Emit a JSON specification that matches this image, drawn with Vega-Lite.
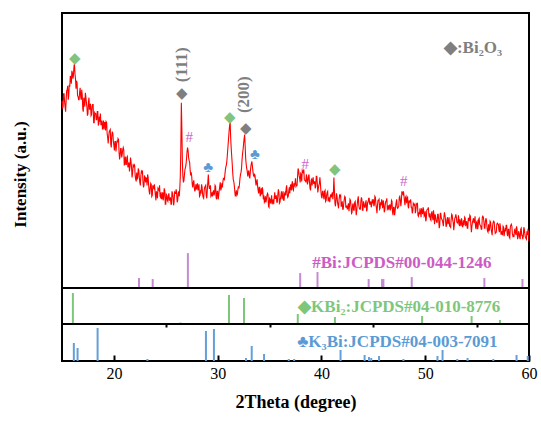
{
  "$schema": "https://vega.github.io/schema/vega-lite/v6.json",
  "padding": {"left": 10, "top": 12, "right": 12, "bottom": 5},
  "spacing": 0,
  "bounds": "flush",
  "config": {
    "view": {"stroke": "black", "strokeWidth": 2},
    "font": "Liberation Serif",
    "axis": {"grid": false}
  },
  "datasets": {
    "curve": [
      {"t":15.0,"i":188},{"t":15.1,"i":182},{"t":15.2,"i":195},{"t":15.3,"i":182},{"t":15.4,"i":189},{"t":15.5,"i":199},{"t":15.6,"i":189},{"t":15.7,"i":204},{"t":15.8,"i":213},{"t":15.9,"i":205},
      {"t":16.0,"i":216},{"t":16.1,"i":213},{"t":16.2,"i":225},{"t":16.3,"i":210},{"t":16.4,"i":208},{"t":16.5,"i":193},{"t":16.6,"i":189},{"t":16.7,"i":197},{"t":16.8,"i":192},{"t":16.9,"i":199},
      {"t":17.0,"i":180},{"t":17.1,"i":191},{"t":17.2,"i":182},{"t":17.3,"i":192},{"t":17.4,"i":182},{"t":17.5,"i":175},{"t":17.6,"i":191},{"t":17.7,"i":181},{"t":17.8,"i":173},{"t":17.9,"i":182},
      {"t":18.0,"i":184},{"t":18.1,"i":166},{"t":18.2,"i":175},{"t":18.3,"i":169},{"t":18.4,"i":177},{"t":18.5,"i":163},{"t":18.6,"i":172},{"t":18.7,"i":175},{"t":18.8,"i":164},{"t":18.9,"i":159},
      {"t":19.0,"i":168},{"t":19.1,"i":166},{"t":19.2,"i":158},{"t":19.3,"i":166},{"t":19.4,"i":151},{"t":19.5,"i":152},{"t":19.6,"i":158},{"t":19.7,"i":144},{"t":19.8,"i":153},{"t":19.9,"i":155},
      {"t":20.0,"i":143},{"t":20.1,"i":147},{"t":20.2,"i":137},{"t":20.3,"i":148},{"t":20.4,"i":150},{"t":20.5,"i":136},{"t":20.6,"i":133},{"t":20.7,"i":140},{"t":20.8,"i":134},{"t":20.9,"i":141},
      {"t":21.0,"i":123},{"t":21.1,"i":132},{"t":21.2,"i":124},{"t":21.3,"i":132},{"t":21.4,"i":123},{"t":21.5,"i":117},{"t":21.6,"i":131},{"t":21.7,"i":121},{"t":21.8,"i":115},{"t":21.9,"i":122},
      {"t":22.0,"i":123},{"t":22.1,"i":109},{"t":22.2,"i":116},{"t":22.3,"i":111},{"t":22.4,"i":118},{"t":22.5,"i":106},{"t":22.6,"i":113},{"t":22.7,"i":116},{"t":22.8,"i":107},{"t":22.9,"i":103},
      {"t":23.0,"i":111},{"t":23.1,"i":111},{"t":23.2,"i":103},{"t":23.3,"i":111},{"t":23.4,"i":97},{"t":23.5,"i":100},{"t":23.6,"i":104},{"t":23.7,"i":93},{"t":23.8,"i":101},{"t":23.9,"i":104},
      {"t":24.0,"i":93},{"t":24.1,"i":97},{"t":24.2,"i":90},{"t":24.3,"i":99},{"t":24.4,"i":103},{"t":24.5,"i":91},{"t":24.6,"i":89},{"t":24.7,"i":96},{"t":24.8,"i":92},{"t":24.9,"i":98},
      {"t":25.0,"i":84},{"t":25.1,"i":93},{"t":25.2,"i":87},{"t":25.3,"i":95},{"t":25.4,"i":88},{"t":25.5,"i":84},{"t":25.6,"i":97},{"t":25.7,"i":91},{"t":25.8,"i":86},{"t":25.9,"i":95},
      {"t":26.0,"i":99},{"t":26.1,"i":86},{"t":26.2,"i":95},{"t":26.3,"i":92},{"t":26.4,"i":112},{"t":26.5,"i":186},{"t":26.6,"i":126},{"t":26.7,"i":106},{"t":26.8,"i":114},{"t":26.9,"i":121},
      {"t":27.0,"i":130},{"t":27.1,"i":141},{"t":27.2,"i":131},{"t":27.3,"i":126},{"t":27.4,"i":113},{"t":27.5,"i":112},{"t":27.6,"i":101},{"t":27.7,"i":108},{"t":27.8,"i":97},{"t":27.9,"i":104},
      {"t":28.0,"i":103},{"t":28.1,"i":98},{"t":28.2,"i":104},{"t":28.3,"i":93},{"t":28.4,"i":96},{"t":28.5,"i":101},{"t":28.6,"i":91},{"t":28.7,"i":98},{"t":28.8,"i":102},{"t":28.9,"i":93},
      {"t":29.0,"i":98},{"t":29.1,"i":114},{"t":29.2,"i":100},{"t":29.3,"i":103},{"t":29.4,"i":93},{"t":29.5,"i":92},{"t":29.6,"i":98},{"t":29.7,"i":95},{"t":29.8,"i":102},{"t":29.9,"i":89},
      {"t":30.0,"i":97},{"t":30.1,"i":93},{"t":30.2,"i":102},{"t":30.3,"i":98},{"t":30.4,"i":105},{"t":30.5,"i":106},{"t":30.6,"i":110},{"t":30.7,"i":114},{"t":30.8,"i":122},{"t":30.9,"i":129},
      {"t":31.0,"i":143},{"t":31.1,"i":157},{"t":31.2,"i":167},{"t":31.3,"i":141},{"t":31.4,"i":125},{"t":31.5,"i":109},{"t":31.6,"i":103},{"t":31.7,"i":92},{"t":31.8,"i":98},{"t":31.9,"i":94},
      {"t":32.0,"i":102},{"t":32.1,"i":104},{"t":32.2,"i":114},{"t":32.3,"i":120},{"t":32.4,"i":135},{"t":32.5,"i":145},{"t":32.6,"i":154},{"t":32.7,"i":130},{"t":32.8,"i":120},{"t":32.9,"i":112},
      {"t":33.0,"i":118},{"t":33.1,"i":110},{"t":33.2,"i":122},{"t":33.3,"i":127},{"t":33.4,"i":117},{"t":33.5,"i":112},{"t":33.6,"i":113},{"t":33.7,"i":103},{"t":33.8,"i":109},{"t":33.9,"i":98},
      {"t":34.0,"i":101},{"t":34.1,"i":92},{"t":34.2,"i":100},{"t":34.3,"i":101},{"t":34.4,"i":89},{"t":34.5,"i":86},{"t":34.6,"i":92},{"t":34.7,"i":89},{"t":34.8,"i":95},{"t":34.9,"i":82},
      {"t":35.0,"i":90},{"t":35.1,"i":85},{"t":35.2,"i":93},{"t":35.3,"i":87},{"t":35.4,"i":84},{"t":35.5,"i":96},{"t":35.6,"i":90},{"t":35.7,"i":86},{"t":35.8,"i":94},{"t":35.9,"i":96},
      {"t":36.0,"i":86},{"t":36.1,"i":93},{"t":36.2,"i":89},{"t":36.3,"i":97},{"t":36.4,"i":88},{"t":36.5,"i":96},{"t":36.6,"i":100},{"t":36.7,"i":94},{"t":36.8,"i":92},{"t":36.9,"i":101},
      {"t":37.0,"i":102},{"t":37.1,"i":98},{"t":37.2,"i":107},{"t":37.3,"i":98},{"t":37.4,"i":103},{"t":37.5,"i":110},{"t":37.6,"i":103},{"t":37.7,"i":112},{"t":37.8,"i":118},{"t":37.9,"i":110},
      {"t":38.0,"i":115},{"t":38.1,"i":107},{"t":38.2,"i":117},{"t":38.3,"i":119},{"t":38.4,"i":108},{"t":38.5,"i":106},{"t":38.6,"i":111},{"t":38.7,"i":107},{"t":38.8,"i":114},{"t":38.9,"i":100},
      {"t":39.0,"i":108},{"t":39.1,"i":103},{"t":39.2,"i":111},{"t":39.3,"i":105},{"t":39.4,"i":100},{"t":39.5,"i":112},{"t":39.6,"i":105},{"t":39.7,"i":100},{"t":39.8,"i":105},{"t":39.9,"i":105},
      {"t":40.0,"i":92},{"t":40.1,"i":97},{"t":40.2,"i":92},{"t":40.3,"i":97},{"t":40.4,"i":87},{"t":40.5,"i":93},{"t":40.6,"i":97},{"t":40.7,"i":89},{"t":40.8,"i":86},{"t":40.9,"i":94},
      {"t":41.0,"i":94},{"t":41.1,"i":89},{"t":41.2,"i":111},{"t":41.3,"i":85},{"t":41.4,"i":88},{"t":41.5,"i":92},{"t":41.6,"i":83},{"t":41.7,"i":89},{"t":41.8,"i":92},{"t":41.9,"i":82},
      {"t":42.0,"i":87},{"t":42.1,"i":79},{"t":42.2,"i":89},{"t":42.3,"i":91},{"t":42.4,"i":81},{"t":42.5,"i":79},{"t":42.6,"i":85},{"t":42.7,"i":82},{"t":42.8,"i":88},{"t":42.9,"i":75},
      {"t":43.0,"i":83},{"t":43.1,"i":78},{"t":43.2,"i":86},{"t":43.3,"i":81},{"t":43.4,"i":77},{"t":43.5,"i":89},{"t":43.6,"i":83},{"t":43.7,"i":79},{"t":43.8,"i":87},{"t":43.9,"i":89},
      {"t":44.0,"i":78},{"t":44.1,"i":85},{"t":44.2,"i":81},{"t":44.3,"i":88},{"t":44.4,"i":79},{"t":44.5,"i":86},{"t":44.6,"i":90},{"t":44.7,"i":84},{"t":44.8,"i":81},{"t":44.9,"i":89},
      {"t":45.0,"i":89},{"t":45.1,"i":84},{"t":45.2,"i":91},{"t":45.3,"i":80},{"t":45.4,"i":83},{"t":45.5,"i":88},{"t":45.6,"i":79},{"t":45.7,"i":86},{"t":45.8,"i":89},{"t":45.9,"i":80},
      {"t":46.0,"i":85},{"t":46.1,"i":78},{"t":46.2,"i":87},{"t":46.3,"i":90},{"t":46.4,"i":80},{"t":46.5,"i":78},{"t":46.6,"i":84},{"t":46.7,"i":80},{"t":46.8,"i":87},{"t":46.9,"i":73},
      {"t":47.0,"i":81},{"t":47.1,"i":77},{"t":47.2,"i":86},{"t":47.3,"i":81},{"t":47.4,"i":81},{"t":47.5,"i":91},{"t":47.6,"i":88},{"t":47.7,"i":87},{"t":47.8,"i":95},{"t":47.9,"i":97},
      {"t":48.0,"i":87},{"t":48.1,"i":91},{"t":48.2,"i":85},{"t":48.3,"i":91},{"t":48.4,"i":80},{"t":48.5,"i":86},{"t":48.6,"i":89},{"t":48.7,"i":81},{"t":48.8,"i":77},{"t":48.9,"i":84},
      {"t":49.0,"i":84},{"t":49.1,"i":78},{"t":49.2,"i":85},{"t":49.3,"i":73},{"t":49.4,"i":76},{"t":49.5,"i":80},{"t":49.6,"i":71},{"t":49.7,"i":77},{"t":49.8,"i":81},{"t":49.9,"i":72},
      {"t":50.0,"i":77},{"t":50.1,"i":69},{"t":50.2,"i":79},{"t":50.3,"i":81},{"t":50.4,"i":71},{"t":50.5,"i":69},{"t":50.6,"i":75},{"t":50.7,"i":71},{"t":50.8,"i":78},{"t":50.9,"i":64},
      {"t":51.0,"i":72},{"t":51.1,"i":66},{"t":51.2,"i":74},{"t":51.3,"i":68},{"t":51.4,"i":63},{"t":51.5,"i":75},{"t":51.6,"i":69},{"t":51.7,"i":65},{"t":51.8,"i":71},{"t":51.9,"i":73},
      {"t":52.0,"i":62},{"t":52.1,"i":69},{"t":52.2,"i":64},{"t":52.3,"i":71},{"t":52.4,"i":62},{"t":52.5,"i":69},{"t":52.6,"i":73},{"t":52.7,"i":66},{"t":52.8,"i":63},{"t":52.9,"i":71},
      {"t":53.0,"i":71},{"t":53.1,"i":66},{"t":53.2,"i":73},{"t":53.3,"i":62},{"t":53.4,"i":65},{"t":53.5,"i":70},{"t":53.6,"i":61},{"t":53.7,"i":68},{"t":53.8,"i":71},{"t":53.9,"i":62},
      {"t":54.0,"i":67},{"t":54.1,"i":60},{"t":54.2,"i":70},{"t":54.3,"i":73},{"t":54.4,"i":63},{"t":54.5,"i":62},{"t":54.6,"i":68},{"t":54.7,"i":65},{"t":54.8,"i":72},{"t":54.9,"i":59},
      {"t":55.0,"i":67},{"t":55.1,"i":62},{"t":55.2,"i":70},{"t":55.3,"i":63},{"t":55.4,"i":59},{"t":55.5,"i":71},{"t":55.6,"i":71},{"t":55.7,"i":60},{"t":55.8,"i":67},{"t":55.9,"i":68},
      {"t":56.0,"i":57},{"t":56.1,"i":64},{"t":56.2,"i":59},{"t":56.3,"i":66},{"t":56.4,"i":56},{"t":56.5,"i":63},{"t":56.6,"i":67},{"t":56.7,"i":59},{"t":56.8,"i":56},{"t":56.9,"i":64},
      {"t":57.0,"i":64},{"t":57.1,"i":58},{"t":57.2,"i":65},{"t":57.3,"i":54},{"t":57.4,"i":57},{"t":57.5,"i":62},{"t":57.6,"i":52},{"t":57.7,"i":59},{"t":57.8,"i":63},{"t":57.9,"i":54},
      {"t":58.0,"i":59},{"t":58.1,"i":51},{"t":58.2,"i":61},{"t":58.3,"i":64},{"t":58.4,"i":54},{"t":58.5,"i":53},{"t":58.6,"i":58},{"t":58.7,"i":55},{"t":58.8,"i":62},{"t":58.9,"i":49},
      {"t":59.0,"i":57},{"t":59.1,"i":51},{"t":59.2,"i":59},{"t":59.3,"i":53},{"t":59.4,"i":49},{"t":59.5,"i":61},{"t":59.6,"i":54},{"t":59.7,"i":50},{"t":59.8,"i":57},{"t":59.9,"i":58},
      {"t":60.0,"i":47},
      {"t":15.05,"i":180},{"t":15.15,"i":195},{"t":15.25,"i":187},{"t":15.35,"i":177},{"t":15.45,"i":198},{"t":15.55,"i":203},{"t":15.65,"i":193},{"t":15.75,"i":202},{"t":15.85,"i":211},{"t":15.95,"i":218},
      {"t":16.05,"i":210},{"t":16.15,"i":222},{"t":16.25,"i":215},{"t":16.35,"i":200},{"t":16.45,"i":206},{"t":16.55,"i":192},{"t":16.65,"i":189},{"t":16.75,"i":201},{"t":16.85,"i":189},{"t":16.95,"i":194},
      {"t":17.05,"i":177},{"t":17.15,"i":188},{"t":17.25,"i":196},{"t":17.35,"i":186},{"t":17.45,"i":173},{"t":17.55,"i":187},{"t":17.65,"i":179},{"t":17.75,"i":185},{"t":17.85,"i":174},{"t":17.95,"i":184},
      {"t":18.05,"i":166},{"t":18.15,"i":176},{"t":18.25,"i":175},{"t":18.35,"i":169},{"t":18.45,"i":177},{"t":18.55,"i":165},{"t":18.65,"i":167},{"t":18.75,"i":164},{"t":18.85,"i":168},{"t":18.95,"i":162},
      {"t":19.05,"i":159},{"t":19.15,"i":166},{"t":19.25,"i":167},{"t":19.35,"i":155},{"t":19.45,"i":145},{"t":19.55,"i":157},{"t":19.65,"i":159},{"t":19.75,"i":141},{"t":19.85,"i":157},{"t":19.95,"i":147},
      {"t":20.05,"i":138},{"t":20.15,"i":147},{"t":20.25,"i":143},{"t":20.35,"i":146},{"t":20.45,"i":149},{"t":20.55,"i":129},{"t":20.65,"i":140},{"t":20.75,"i":131},{"t":20.85,"i":139},{"t":20.95,"i":139},
      {"t":21.05,"i":126},{"t":21.15,"i":124},{"t":21.25,"i":131},{"t":21.35,"i":121},{"t":21.45,"i":126},{"t":21.55,"i":122},{"t":21.65,"i":127},{"t":21.75,"i":111},{"t":21.85,"i":123},{"t":21.95,"i":124},
      {"t":22.05,"i":113},{"t":22.15,"i":107},{"t":22.25,"i":109},{"t":22.35,"i":120},{"t":22.45,"i":111},{"t":22.55,"i":103},{"t":22.65,"i":117},{"t":22.75,"i":118},{"t":22.85,"i":101},{"t":22.95,"i":113},
      {"t":23.05,"i":106},{"t":23.15,"i":109},{"t":23.25,"i":114},{"t":23.35,"i":103},{"t":23.45,"i":94},{"t":23.55,"i":105},{"t":23.65,"i":92},{"t":23.75,"i":103},{"t":23.85,"i":100},{"t":23.95,"i":99},
      {"t":24.05,"i":88},{"t":24.15,"i":95},{"t":24.25,"i":100},{"t":24.35,"i":98},{"t":24.45,"i":92},{"t":24.55,"i":96},{"t":24.65,"i":91},{"t":24.75,"i":88},{"t":24.85,"i":100},{"t":24.95,"i":84},
      {"t":25.05,"i":94},{"t":25.15,"i":88},{"t":25.25,"i":93},{"t":25.35,"i":88},{"t":25.45,"i":91},{"t":25.55,"i":84},{"t":25.65,"i":95},{"t":25.75,"i":83},{"t":25.85,"i":96},{"t":25.95,"i":95},
      {"t":26.05,"i":95},{"t":26.15,"i":88},{"t":26.25,"i":97},{"t":26.35,"i":100},{"t":26.45,"i":140},{"t":26.55,"i":160},{"t":26.65,"i":112},{"t":26.75,"i":108},{"t":26.85,"i":119},{"t":26.95,"i":124},
      {"t":27.05,"i":137},{"t":27.15,"i":138},{"t":27.25,"i":128},{"t":27.35,"i":118},{"t":27.45,"i":116},{"t":27.55,"i":104},{"t":27.65,"i":106},{"t":27.75,"i":101},{"t":27.85,"i":99},{"t":27.95,"i":99},
      {"t":28.05,"i":105},{"t":28.15,"i":100},{"t":28.25,"i":92},{"t":28.35,"i":97},{"t":28.45,"i":104},{"t":28.55,"i":94},{"t":28.65,"i":90},{"t":28.75,"i":101},{"t":28.85,"i":103},{"t":28.95,"i":90},
      {"t":29.05,"i":106},{"t":29.15,"i":104},{"t":29.25,"i":100},{"t":29.35,"i":92},{"t":29.45,"i":96},{"t":29.55,"i":96},{"t":29.65,"i":93},{"t":29.75,"i":103},{"t":29.85,"i":91},{"t":29.95,"i":97},
      {"t":30.05,"i":89},{"t":30.15,"i":98},{"t":30.25,"i":106},{"t":30.35,"i":100},{"t":30.45,"i":101},{"t":30.55,"i":110},{"t":30.65,"i":109},{"t":30.75,"i":119},{"t":30.85,"i":124},{"t":30.95,"i":136},
      {"t":31.05,"i":150},{"t":31.15,"i":163},{"t":31.25,"i":152},{"t":31.35,"i":133},{"t":31.45,"i":116},{"t":31.55,"i":107},{"t":31.65,"i":97},{"t":31.75,"i":95},{"t":31.85,"i":93},{"t":31.95,"i":99},
      {"t":32.05,"i":100},{"t":32.15,"i":110},{"t":32.25,"i":116},{"t":32.35,"i":129},{"t":32.45,"i":139},{"t":32.55,"i":150},{"t":32.65,"i":142},{"t":32.75,"i":124},{"t":32.85,"i":117},{"t":32.95,"i":116},
      {"t":33.05,"i":112},{"t":33.15,"i":117},{"t":33.25,"i":125},{"t":33.35,"i":122},{"t":33.45,"i":113},{"t":33.55,"i":114},{"t":33.65,"i":107},{"t":33.75,"i":107},{"t":33.85,"i":102},{"t":33.95,"i":95},
      {"t":34.05,"i":101},{"t":34.15,"i":95},{"t":34.25,"i":94},{"t":34.35,"i":98},{"t":34.45,"i":93},{"t":34.55,"i":87},{"t":34.65,"i":86},{"t":34.75,"i":93},{"t":34.85,"i":94},{"t":34.95,"i":81},
      {"t":35.05,"i":89},{"t":35.15,"i":88},{"t":35.25,"i":84},{"t":35.35,"i":89},{"t":35.45,"i":91},{"t":35.55,"i":90},{"t":35.65,"i":93},{"t":35.75,"i":86},{"t":35.85,"i":99},{"t":35.95,"i":85},
      {"t":36.05,"i":90},{"t":36.15,"i":97},{"t":36.25,"i":92},{"t":36.35,"i":88},{"t":36.45,"i":95},{"t":36.55,"i":93},{"t":36.65,"i":103},{"t":36.75,"i":91},{"t":36.85,"i":97},{"t":36.95,"i":95},
      {"t":37.05,"i":104},{"t":37.15,"i":104},{"t":37.25,"i":99},{"t":37.35,"i":105},{"t":37.45,"i":105},{"t":37.55,"i":102},{"t":37.65,"i":103},{"t":37.75,"i":120},{"t":37.85,"i":113},{"t":37.95,"i":106},
      {"t":38.05,"i":114},{"t":38.15,"i":118},{"t":38.25,"i":116},{"t":38.35,"i":109},{"t":38.45,"i":108},{"t":38.55,"i":114},{"t":38.65,"i":104},{"t":38.75,"i":112},{"t":38.85,"i":106},{"t":38.95,"i":98},
      {"t":39.05,"i":109},{"t":39.15,"i":108},{"t":39.25,"i":105},{"t":39.35,"i":107},{"t":39.45,"i":102},{"t":39.55,"i":112},{"t":39.65,"i":96},{"t":39.75,"i":103},{"t":39.85,"i":111},{"t":39.95,"i":97},
      {"t":40.05,"i":90},{"t":40.15,"i":97},{"t":40.25,"i":89},{"t":40.35,"i":98},{"t":40.45,"i":88},{"t":40.55,"i":96},{"t":40.65,"i":87},{"t":40.75,"i":91},{"t":40.85,"i":92},{"t":40.95,"i":91},
      {"t":41.05,"i":96},{"t":41.15,"i":96},{"t":41.25,"i":98},{"t":41.35,"i":82},{"t":41.45,"i":95},{"t":41.55,"i":86},{"t":41.65,"i":80},{"t":41.75,"i":93},{"t":41.85,"i":93},{"t":41.95,"i":82},
      {"t":42.05,"i":79},{"t":42.15,"i":85},{"t":42.25,"i":92},{"t":42.35,"i":81},{"t":42.45,"i":82},{"t":42.55,"i":81},{"t":42.65,"i":77},{"t":42.75,"i":89},{"t":42.85,"i":82},{"t":42.95,"i":76},
      {"t":43.05,"i":85},{"t":43.15,"i":78},{"t":43.25,"i":87},{"t":43.35,"i":73},{"t":43.45,"i":84},{"t":43.55,"i":92},{"t":43.65,"i":80},{"t":43.75,"i":79},{"t":43.85,"i":91},{"t":43.95,"i":78},
      {"t":44.05,"i":87},{"t":44.15,"i":81},{"t":44.25,"i":85},{"t":44.35,"i":77},{"t":44.45,"i":86},{"t":44.55,"i":90},{"t":44.65,"i":84},{"t":44.75,"i":87},{"t":44.85,"i":84},{"t":44.95,"i":85},
      {"t":45.05,"i":82},{"t":45.15,"i":92},{"t":45.25,"i":84},{"t":45.35,"i":75},{"t":45.45,"i":88},{"t":45.55,"i":89},{"t":45.65,"i":80},{"t":45.75,"i":83},{"t":45.85,"i":85},{"t":45.95,"i":88},
      {"t":46.05,"i":76},{"t":46.15,"i":84},{"t":46.25,"i":87},{"t":46.35,"i":79},{"t":46.45,"i":83},{"t":46.55,"i":82},{"t":46.65,"i":79},{"t":46.75,"i":88},{"t":46.85,"i":76},{"t":46.95,"i":81},
      {"t":47.05,"i":73},{"t":47.15,"i":82},{"t":47.25,"i":89},{"t":47.35,"i":80},{"t":47.45,"i":82},{"t":47.55,"i":92},{"t":47.65,"i":82},{"t":47.75,"i":97},{"t":47.85,"i":94},{"t":47.95,"i":93},
      {"t":48.05,"i":83},{"t":48.15,"i":92},{"t":48.25,"i":90},{"t":48.35,"i":82},{"t":48.45,"i":88},{"t":48.55,"i":86},{"t":48.65,"i":81},{"t":48.75,"i":75},{"t":48.85,"i":85},{"t":48.95,"i":83},
      {"t":49.05,"i":75},{"t":49.15,"i":84},{"t":49.25,"i":85},{"t":49.35,"i":72},{"t":49.45,"i":74},{"t":49.55,"i":76},{"t":49.65,"i":80},{"t":49.75,"i":74},{"t":49.85,"i":78},{"t":49.95,"i":73},
      {"t":50.05,"i":67},{"t":50.15,"i":78},{"t":50.25,"i":79},{"t":50.35,"i":73},{"t":50.45,"i":75},{"t":50.55,"i":68},{"t":50.65,"i":77},{"t":50.75,"i":68},{"t":50.85,"i":72},{"t":50.95,"i":74},
      {"t":51.05,"i":68},{"t":51.15,"i":66},{"t":51.25,"i":74},{"t":51.35,"i":60},{"t":51.45,"i":75},{"t":51.55,"i":70},{"t":51.65,"i":68},{"t":51.75,"i":62},{"t":51.85,"i":76},{"t":51.95,"i":69},
      {"t":52.05,"i":62},{"t":52.15,"i":71},{"t":52.25,"i":66},{"t":52.35,"i":62},{"t":52.45,"i":61},{"t":52.55,"i":74},{"t":52.65,"i":68},{"t":52.75,"i":58},{"t":52.85,"i":70},{"t":52.95,"i":74},
      {"t":53.05,"i":66},{"t":53.15,"i":65},{"t":53.25,"i":68},{"t":53.35,"i":69},{"t":53.45,"i":62},{"t":53.55,"i":67},{"t":53.65,"i":63},{"t":53.75,"i":63},{"t":53.85,"i":70},{"t":53.95,"i":65},
      {"t":54.05,"i":60},{"t":54.15,"i":70},{"t":54.25,"i":67},{"t":54.35,"i":72},{"t":54.45,"i":56},{"t":54.55,"i":66},{"t":54.65,"i":70},{"t":54.75,"i":67},{"t":54.85,"i":61},{"t":54.95,"i":66},
      {"t":55.05,"i":59},{"t":55.15,"i":69},{"t":55.25,"i":64},{"t":55.35,"i":62},{"t":55.45,"i":59},{"t":55.55,"i":72},{"t":55.65,"i":67},{"t":55.75,"i":60},{"t":55.85,"i":70},{"t":55.95,"i":61},
      {"t":56.05,"i":56},{"t":56.15,"i":57},{"t":56.25,"i":67},{"t":56.35,"i":60},{"t":56.45,"i":53},{"t":56.55,"i":66},{"t":56.65,"i":66},{"t":56.75,"i":55},{"t":56.85,"i":56},{"t":56.95,"i":65},
      {"t":57.05,"i":64},{"t":57.15,"i":56},{"t":57.25,"i":61},{"t":57.35,"i":54},{"t":57.45,"i":53},{"t":57.55,"i":61},{"t":57.65,"i":56},{"t":57.75,"i":58},{"t":57.85,"i":63},{"t":57.95,"i":52},
      {"t":58.05,"i":59},{"t":58.15,"i":50},{"t":58.25,"i":63},{"t":58.35,"i":62},{"t":58.45,"i":52},{"t":58.55,"i":51},{"t":58.65,"i":59},{"t":58.75,"i":53},{"t":58.85,"i":59},{"t":58.95,"i":51},
      {"t":59.05,"i":55},{"t":59.15,"i":49},{"t":59.25,"i":60},{"t":59.35,"i":53},{"t":59.45,"i":52},{"t":59.55,"i":59},{"t":59.65,"i":51},{"t":59.75,"i":49},{"t":59.85,"i":53},{"t":59.95,"i":57}
    ],
    "bi": [
      {"t":22.42,"h":10},{"t":23.74,"h":9},{"t":27.13,"h":35},{"t":37.95,"h":15},{"t":39.62,"h":16},{"t":44.55,"h":9},{"t":45.84,"h":9},{"t":45.97,"h":9},{"t":48.7,"h":11},{"t":55.7,"h":10},{"t":59.37,"h":9}
    ],
    "kbi2": [
      {"t":16.05,"h":31},{"t":26.42,"h":1.5},{"t":31.09,"h":29},{"t":32.54,"h":26},{"t":37.72,"h":10},{"t":41.3,"h":7},{"t":49.7,"h":8},{"t":54.47,"h":8},{"t":57.2,"h":4}
    ],
    "k3bi": [
      {"t":16.14,"h":18},{"t":16.5,"h":13},{"t":18.43,"h":33},{"t":23.23,"h":2},{"t":28.87,"h":30},{"t":29.64,"h":32},{"t":32.73,"h":3},{"t":33.28,"h":15},{"t":34.47,"h":7},{"t":36.85,"h":2},{"t":37.37,"h":2},{"t":41.84,"h":11},{"t":44.16,"h":6},{"t":44.58,"h":4},{"t":44.8,"h":3},{"t":45.55,"h":5},{"t":47.9,"h":2},{"t":51.18,"h":5},{"t":51.67,"h":11},{"t":53.09,"h":2},{"t":54.08,"h":3},{"t":56.56,"h":2},{"t":58.8,"h":6},{"t":59.88,"h":5}
    ],
    "marks": [
      {"t":16.21,"v":231,"ph":"KBi2","sym":"◆"},
      {"t":26.55,"v":196,"ph":"Bi2O3","sym":"◆"},
      {"t":27.25,"v":152,"ph":"Bi","sym":"#"},
      {"t":29.09,"v":121,"ph":"K3Bi","sym":"♣"},
      {"t":31.21,"v":172,"ph":"KBi2","sym":"◆"},
      {"t":32.73,"v":161,"ph":"Bi2O3","sym":"◆"},
      {"t":33.6,"v":134,"ph":"K3Bi","sym":"♣"},
      {"t":38.43,"v":124,"ph":"Bi","sym":"#"},
      {"t":41.26,"v":119,"ph":"KBi2","sym":"◆"},
      {"t":47.93,"v":107,"ph":"Bi","sym":"#"}
    ],
    "planes": [
      {"t":26.61,"v":224,"hkl":"(111)"},
      {"t":32.56,"v":194,"hkl":"(200)"}
    ]
  },
  "vconcat": [
    {
      "width": 467,
      "height": 275,
      "layer": [
        {
          "data": {"name": "curve"},
          "mark": {"type": "line", "color": "#ff0000", "strokeWidth": 1.1},
          "encoding": {
            "x": {"field": "t", "type": "quantitative", "scale": {"domain": [15, 60], "nice": false, "zero": false}, "axis": null},
            "y": {"field": "i", "type": "quantitative", "scale": {"domain": [0, 276], "nice": false},
                  "axis": {"title": "Intensity (a.u.)", "labels": false, "ticks": false, "domain": false, "titleFontSize": 17, "titleFontWeight": "bold", "titleColor": "black", "titleFont": "Liberation Serif", "titlePadding": 33, "titleY": 161}},
            "order": {"field": "t", "type": "quantitative"}
          }
        },
        {
          "data": {"name": "bi"},
          "mark": {"type": "rule", "color": "#c48ad2", "strokeWidth": 2},
          "encoding": {
            "x": {"field": "t", "type": "quantitative"},
            "y": {"field": "h", "type": "quantitative"},
            "y2": {"datum": 0}
          }
        },
        {
          "data": {"name": "marks"},
          "mark": {"type": "text", "fontSize": 15, "baseline": "middle", "align": "center"},
          "encoding": {
            "x": {"field": "t", "type": "quantitative"},
            "y": {"field": "v", "type": "quantitative"},
            "text": {"field": "sym"},
            "color": {"field": "ph", "type": "nominal", "legend": null,
                      "scale": {"domain": ["Bi", "KBi2", "K3Bi", "Bi2O3"], "range": ["#cc66cc", "#82c47e", "#5b9bd5", "#7f7f7f"]}}
          }
        },
        {
          "data": {"name": "planes"},
          "mark": {"type": "text", "fontSize": 17, "fontWeight": "bold", "angle": 270, "baseline": "middle", "align": "center", "color": "#7f7f7f"},
          "encoding": {
            "x": {"field": "t", "type": "quantitative"},
            "y": {"field": "v", "type": "quantitative"},
            "text": {"field": "hkl"}
          }
        },
        {
          "data": {"values": [{"t": 51.8, "v": 241, "label": "◆:Bi₂O₃"}]},
          "mark": {"type": "text", "fontSize": 17, "fontWeight": "bold", "align": "left", "baseline": "middle", "color": "#7f7f7f"},
          "encoding": {
            "x": {"field": "t", "type": "quantitative"},
            "y": {"field": "v", "type": "quantitative"},
            "text": {"field": "label"}
          }
        },
        {
          "data": {"values": [{"t": 56.4, "v": 25, "label": "#Bi:JCPDS#00-044-1246"}]},
          "mark": {"type": "text", "fontSize": 17, "fontWeight": "bold", "align": "right", "baseline": "middle", "color": "#cc5cc4"},
          "encoding": {
            "x": {"field": "t", "type": "quantitative"},
            "y": {"field": "v", "type": "quantitative"},
            "text": {"field": "label"}
          }
        }
      ]
    },
    {
      "width": 467,
      "height": 36,
      "layer": [
        {
          "data": {"name": "kbi2"},
          "mark": {"type": "rule", "color": "#7ec77a", "strokeWidth": 2},
          "encoding": {
            "x": {"field": "t", "type": "quantitative", "scale": {"domain": [15, 60], "nice": false, "zero": false}, "axis": null},
            "y": {"field": "h", "type": "quantitative", "scale": {"domain": [0, 36], "nice": false}, "axis": null},
            "y2": {"datum": 0}
          }
        },
        {
          "data": {"values": [{"t": 37.75, "v": 17, "label": "◆KBi₂:JCPDS#04-010-8776"}]},
          "mark": {"type": "text", "fontSize": 17, "fontWeight": "bold", "align": "left", "baseline": "middle", "color": "#7ec77a"},
          "encoding": {
            "x": {"field": "t", "type": "quantitative"},
            "y": {"field": "v", "type": "quantitative"},
            "text": {"field": "label"}
          }
        }
      ]
    },
    {
      "width": 467,
      "height": 37,
      "resolve": {"axis": {"x": "independent"}},
      "layer": [
        {
          "data": {"name": "k3bi"},
          "mark": {"type": "rule", "color": "#649fd8", "strokeWidth": 2},
          "encoding": {
            "x": {"field": "t", "type": "quantitative", "scale": {"domain": [15, 60], "nice": false, "zero": false},
                  "axis": {"values": [20, 30, 40, 50, 60], "tickSize": -6, "tickColor": "black", "tickWidth": 2, "domain": false, "labelFontSize": 16, "labelColor": "black", "labelFont": "Liberation Serif", "labelPadding": 10, "title": "2Theta (degree)", "titleFontSize": 18, "titleFontWeight": "bold", "titleFont": "Liberation Serif", "titleColor": "black", "titlePadding": 12, "labelFlush": false}},
            "y": {"field": "h", "type": "quantitative", "scale": {"domain": [0, 37], "nice": false}, "axis": null},
            "y2": {"datum": 0}
          }
        },
        {
          "data": {"values": [{"t": 37.66, "v": 19, "label": "♣K₃Bi:JCPDS#04-003-7091"}]},
          "mark": {"type": "text", "fontSize": 17, "fontWeight": "bold", "align": "left", "baseline": "middle", "color": "#5b9bd5"},
          "encoding": {
            "x": {"field": "t", "type": "quantitative",
                  "axis": {"values": [25, 35, 45, 55], "tickSize": -3, "tickColor": "black", "tickWidth": 2, "labels": false, "domain": false, "title": null}},
            "y": {"field": "v", "type": "quantitative"},
            "text": {"field": "label"}
          }
        }
      ]
    }
  ]
}
